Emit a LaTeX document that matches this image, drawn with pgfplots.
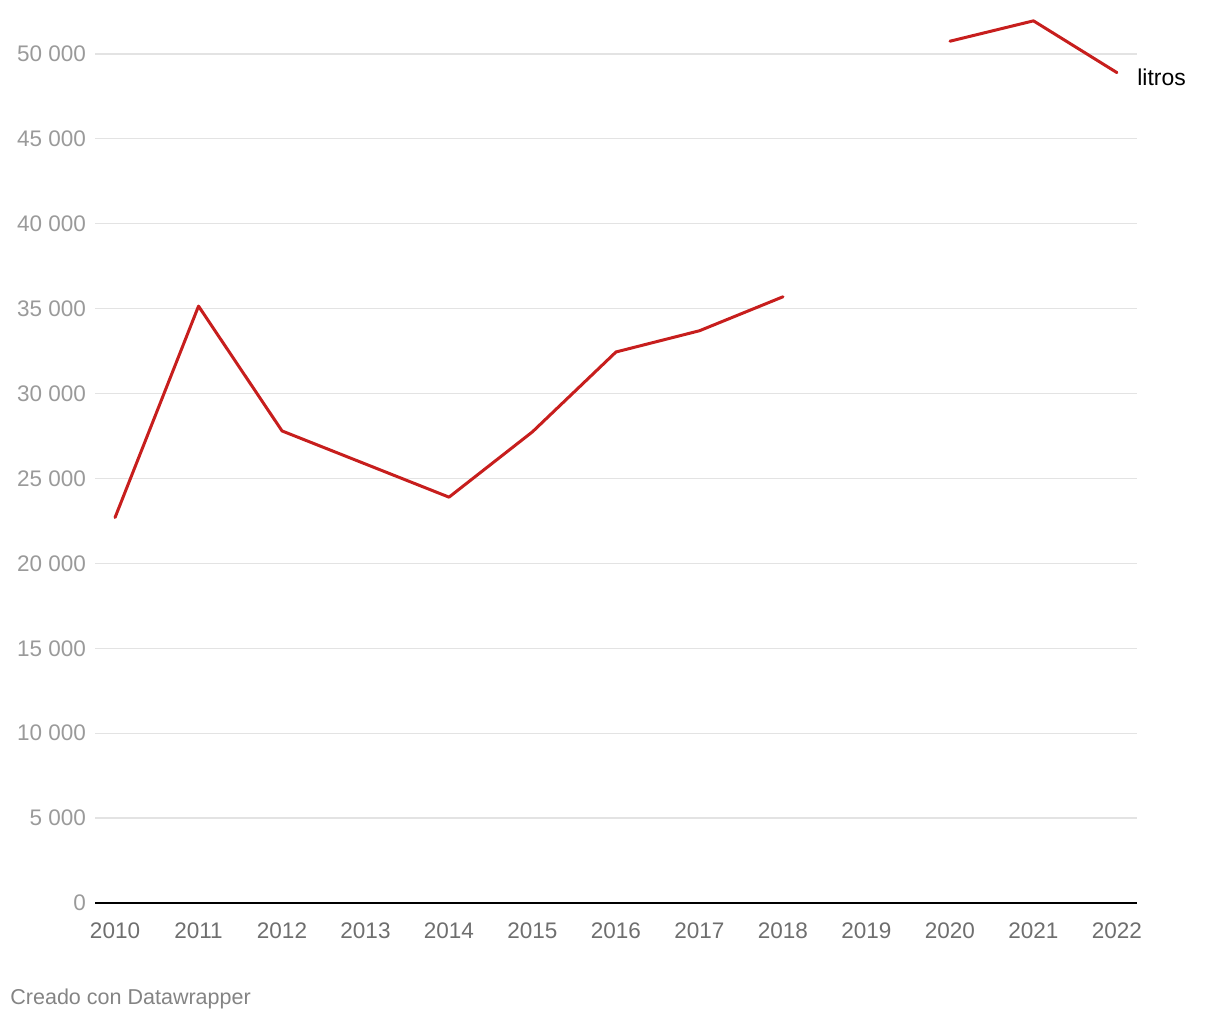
\documentclass[border=0pt]{standalone}
\usepackage{pgfplots}
\pgfplotsset{compat=1.18}
\usepackage{fontspec}
\setmainfont{Liberation Sans}
\definecolor{dwred}{HTML}{C71E1D}
\definecolor{ylab}{HTML}{9A9A9A}
\definecolor{xlab}{HTML}{6E6E6E}
\definecolor{gridc}{HTML}{E3E3E3}
\begin{document}
\begin{tikzpicture}
\useasboundingbox (0,0) rectangle (610bp,510bp);
\begin{axis}[
  at={(47.5bp,58.5bp)}, anchor=south west,
  scale only axis, width=521bp, height=441.5bp,
  xmin=2009.76, xmax=2022.24, ymin=0, ymax=52000,
  clip=false,
  axis x line*=bottom, axis y line*=left,
  y axis line style={draw=none},
  x axis line style={black, line width=0.8bp, -},
  unbounded coords=jump,
  scaled y ticks=false, scaled x ticks=false,
  ytick={0,5000,...,50000},
  xtick={2010,...,2022},
  ymajorgrids, grid style={gridc, line width=0.6bp},
  major tick length=0pt,
  /pgf/number format/assume math mode=true,
  yticklabel style={font=\fontsize{11.3}{13}\selectfont, text=ylab, anchor=east, xshift=-1bp},
  xticklabel style={font=\fontsize{11.3}{13}\selectfont, text=xlab, anchor=north, yshift=-6.5bp},
  yticklabel={\pgfmathprintnumber[fixed, 1000 sep={\ }, assume math mode=true]{\tick}},
  xticklabel={\pgfmathprintnumber[fixed, 1000 sep={}, assume math mode=true]{\tick}},
]
\addplot[dwred, line width=1.5bp, line join=round, line cap=round] coordinates {
  (2010,22700) (2011,35150) (2012,27800) (2013,25850) (2014,23900)
  (2015,27750) (2016,32450) (2017,33700) (2018,35700) (2019,nan)
  (2020,50750) (2021,51950) (2022,48900)
};
\node[anchor=west, font=\fontsize{11.5}{13}\selectfont, text=black, inner sep=0pt] at (axis cs:2022,48900) [xshift=10bp, yshift=-2.5bp] {litros};
\end{axis}
\node[anchor=west, font=\fontsize{10.8}{12}\selectfont, text=xlab!85!white, inner sep=0pt] at (5bp,10.5bp) {Creado con Datawrapper};
\end{tikzpicture}
\end{document}
